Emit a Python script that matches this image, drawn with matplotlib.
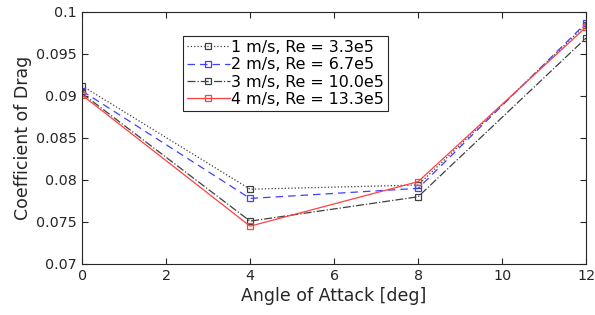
import numpy as np
import matplotlib.pyplot as plt

# Angle of attack (deg) and drag coefficients for each flow speed
aoa = [0, 4, 8, 12]
cd_1ms = [0.0912, 0.0789, 0.0794, 0.0985]
cd_2ms = [0.0906, 0.0778, 0.0790, 0.0987]
cd_3ms = [0.0903, 0.0751, 0.0780, 0.0969]
cd_4ms = [0.0901, 0.0745, 0.0798, 0.0982]
labels = ['1 m/s, Re = 3.3e5', '2 m/s, Re = 6.7e5',
          '3 m/s, Re = 10.0e5', '4 m/s, Re = 13.3e5']

fig = plt.figure(figsize=(5.95, 3.15), dpi=100)
ax = fig.add_axes([0.138, 0.162, 0.847, 0.8])

styles = [(cd_1ms, '#404040', ':'), (cd_2ms, '#4040ff', (0, (6, 4))),
          (cd_3ms, '#404040', '-.'), (cd_4ms, '#ff4040', '-')]
for (cd, c, ls), lab in zip(styles, labels):
    ax.plot(aoa, cd, color=c, linestyle=ls, linewidth=0.9, marker='s', markersize=5,
            markerfacecolor='none', markeredgecolor=c, markeredgewidth=0.9, label=lab)

ax.set_xlim(0, 12)
ax.set_ylim(0.07, 0.1)
ax.set_xticks([0, 2, 4, 6, 8, 10, 12])
ax.set_yticks([0.07, 0.075, 0.08, 0.085, 0.09, 0.095, 0.1])
ax.set_yticklabels(['0.07', '0.075', '0.08', '0.085', '0.09', '0.095', '0.1'])
ax.tick_params(direction='in', top=True, right=True, labelsize=10.3, colors='#262626', length=4)
for s in ax.spines.values():
    s.set_color('#262626')
ax.set_xlabel('Angle of Attack [deg]', fontsize=12.5, color='#262626', labelpad=3)
ax.set_ylabel('Coefficient of Drag', fontsize=12.5, color='#262626', labelpad=3)

leg = ax.legend(loc='upper left', bbox_to_anchor=(0.2, 0.905), fontsize=11.4, handlelength=2.7,
                handletextpad=0.1, borderpad=0.25, labelspacing=0.15, fancybox=False,
                framealpha=1, edgecolor='#262626', borderaxespad=0)
leg.get_frame().set_linewidth(0.8)

fig.savefig('out.png', dpi=100)
